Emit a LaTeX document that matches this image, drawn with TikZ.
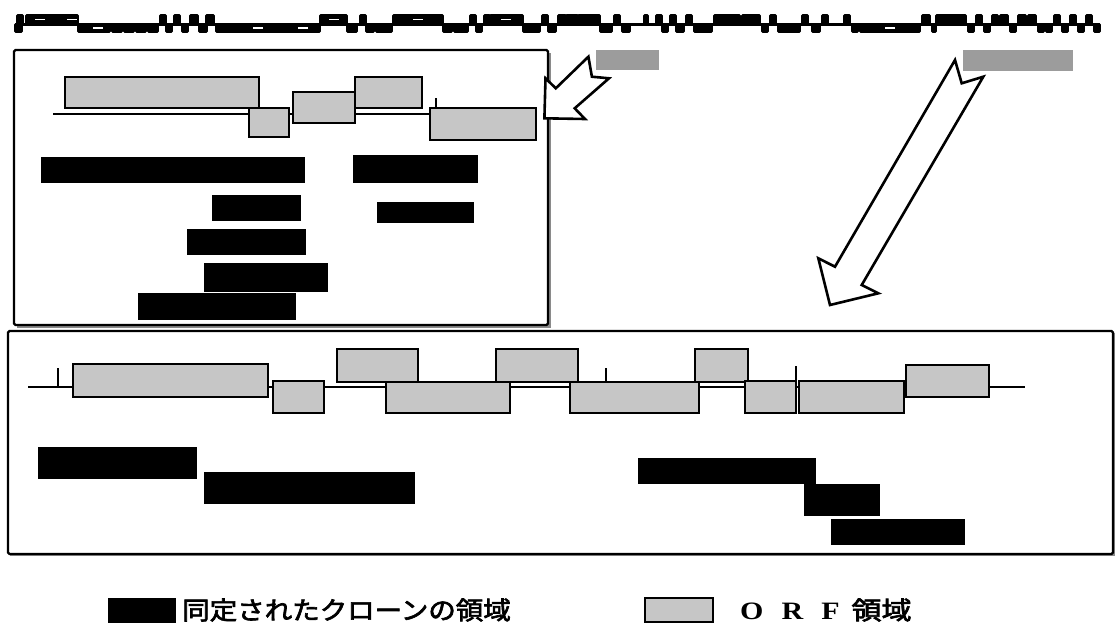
\documentclass[tikz,border=0pt]{standalone}
\usepackage{fontspec}
\newfontfamily\cjk{Noto Sans CJK JP}[AutoFakeBold=2.5]
\newfontfamily\latinb{Liberation Serif}
\definecolor{orfgray}{HTML}{C6C6C6}
\definecolor{tagray}{HTML}{9C9C9C}
\definecolor{shadowgray}{HTML}{8A8A8A}
\tikzset{
  orf/.style={draw=black, line width=1.4, fill=orfgray, inner sep=0, outer sep=0},
  clone/.style={fill=black, draw=black, line width=0.6, inner sep=0, outer sep=0},
  tag/.style={fill=tagray, draw=none, inner sep=0, outer sep=0},
  mini/.style={fill=black, draw=black, line width=1.8, rounded corners=1, inner sep=0, outer sep=0},
  frame/.style={draw=black, line width=2.2, rounded corners=1.5},
  gene/.style={draw=black, line width=1.5},
  tick/.style={draw=black, line width=1.2},
  blockarrow/.style={draw=black, line width=2.6, fill=white, line join=miter},
  legendtext/.style={anchor=west, inner sep=0, font=\cjk\bfseries\fontsize{25}{25}\selectfont}
}
% style, name, x1, y1, x2, y2  (pixel coordinates, y downward)
\newcommand\blk[6]{\node[#1, anchor=north west, minimum width={(#5)-(#3)}, minimum height={(#6)-(#4)}] (#2) at (#3,#4) {};}
\begin{document}
\begin{tikzpicture}[x=1pt,y=-1pt]
\useasboundingbox (0,0) rectangle (1116,643);

% ---------- miniature map (top strip) ----------
\coordinate (mapL) at (15,24);
\coordinate (mapR) at (1100,24);
\draw[line width=3] (mapL) -- (mapR);
\foreach \a/\b/\t [count=\i] in {15/22/1,17/23/0,26/78/0,78/110/1,112/122/1,124/134/1,136/146/1,148/158/1,160/166/0,166/172/1,174/180/0,182/188/1,190/198/0,199/207/1,206/214/0,216/320/1,320/347/0,347/357/1,360/366/0,366/374/1,376/392/1,393/443/0,443/452/1,454/468/1,470/476/0,476/482/1,484/490/0,490/523/0,523/540/1,542/548/0,548/556/1,558/566/0,566/578/0,578/600/0,600/612/1,614/620/0,622/630/1,644/648/0,656/662/0,662/668/1,670/676/0,676/684/1,686/692/0,694/712/1,714/740/0,742/760/0,762/768/1,770/776/0,778/800/1,802/808/0,812/820/1,822/828/0,844/850/0,852/858/1,860/920/1,922/930/0,932/936/1,936/966/0,968/974/1,976/982/0,984/990/1,992/998/0,1000/1008/0,1010/1016/1,1018/1026/0,1028/1036/0,1038/1044/1,1046/1052/1,1054/1060/0,1062/1068/1,1070/1076/0,1078/1084/1,1086/1092/0,1094/1100/1}{
  \pgfmathsetmacro\ya{\t==0 ? 15 : 24}
  \pgfmathsetmacro\yb{\t==0 ? 24 : 32}
  \blk{mini}{m\i}{\a}{\ya}{\b}{\yb}
}
% long-box highlights
\foreach \cx/\cy [count=\j] in {40/19.5,72/19.5,98/28,258/28,303/28,334/19.5,418/19.5,506/19.5,890/28}{
  \fill[white] (\cx-5,\cy-0.8) rectangle (\cx+5,\cy+0.8);
}

% selected regions on the map
\blk{tag}{tagA}{596}{50}{659}{70}
\blk{tag}{tagB}{963}{50}{1073}{71}

% ---------- upper inset ----------
\fill[shadowgray] (17,53) rectangle (551,328);
\draw[frame, fill=white] (14,50) rectangle (548,325);
\coordinate (g1a) at (53,114);
\coordinate (g1b) at (430,114);
\draw[gene] (g1a) -- (g1b);
\draw[tick] (259,95) -- (259,114);
\draw[tick] (436,98) -- (436,109);
\blk{orf}{oA}{65}{77}{259}{108}
\blk{orf}{oB}{249}{108}{289}{137}
\blk{orf}{oC}{293}{92}{355}{123}
\blk{orf}{oD}{355}{77}{422}{108}
\blk{orf}{oE}{430}{108}{536}{140}
\blk{clone}{c1}{41}{157}{304}{182}
\blk{clone}{c2}{353}{155}{477}{182}
\blk{clone}{c3}{212}{195}{300}{220}
\blk{clone}{c4}{377}{202}{473}{222}
\blk{clone}{c5}{187}{229}{305}{254}
\blk{clone}{c6}{204}{263}{327}{291}
\blk{clone}{c7}{138}{293}{295}{319}

% ---------- lower inset ----------
\fill[shadowgray] (10,333) rectangle (1115,556);
\draw[frame, fill=white] (8,331) rectangle (1113,554);
\coordinate (g2a) at (28,387);
\coordinate (g2b) at (1025,387);
\draw[gene] (g2a) -- (g2b);
\draw[tick] (58,368) -- (58,387);
\draw[tick] (606,368) -- (606,382);
\draw[tick] (796,366) -- (796,413);
\blk{orf}{pa}{73}{364}{268}{397}
\blk{orf}{pb}{273}{381}{324}{413}
\blk{orf}{pc}{337}{349}{418}{382}
\blk{orf}{pd}{386}{382}{510}{413}
\blk{orf}{pe}{496}{349}{578}{382}
\blk{orf}{pf}{570}{382}{699}{413}
\blk{orf}{pg}{695}{349}{748}{382}
\blk{orf}{ph}{745}{381}{796}{413}
\blk{orf}{pi}{799}{381}{904}{413}
\blk{orf}{pj}{906}{365}{989}{397}
\blk{clone}{d1}{38}{447}{196}{478}
\blk{clone}{d2}{204}{472}{414}{503}
\blk{clone}{d3}{638}{458}{815}{483}
\blk{clone}{d4}{804}{484}{879}{515}
\blk{clone}{d5}{831}{519}{964}{544}

% ---------- block arrows ----------
\draw[blockarrow] (544.4,118.3) -- (545.5,78.3) -- (555.8,88.3) -- (588.4,56.7)
  -- (591.9,76.7) -- (609,78.3) -- (574.7,108.3) -- (585,119) -- cycle;
\draw[blockarrow] (955,60) -- (961.7,83.3) -- (983.3,76.7) -- (861.7,285)
  -- (878.3,293.3) -- (830,305) -- (818.3,258.3) -- (835,266.7) -- cycle;

% ---------- legend ----------
\blk{clone}{legClone}{108}{598}{175}{622}
\node[legendtext, xscale=1.1] (legCloneText) at (182,610) {同定されたクローンの領域};
\blk{orf}{legOrf}{645}{598}{713}{622}
\node[legendtext, xscale=1.2] (legOrfText) at (740,610) {{\latinb\bfseries O\hspace{15pt}R\hspace{15pt}F}\hspace{10pt}領域};
\end{tikzpicture}
\end{document}
